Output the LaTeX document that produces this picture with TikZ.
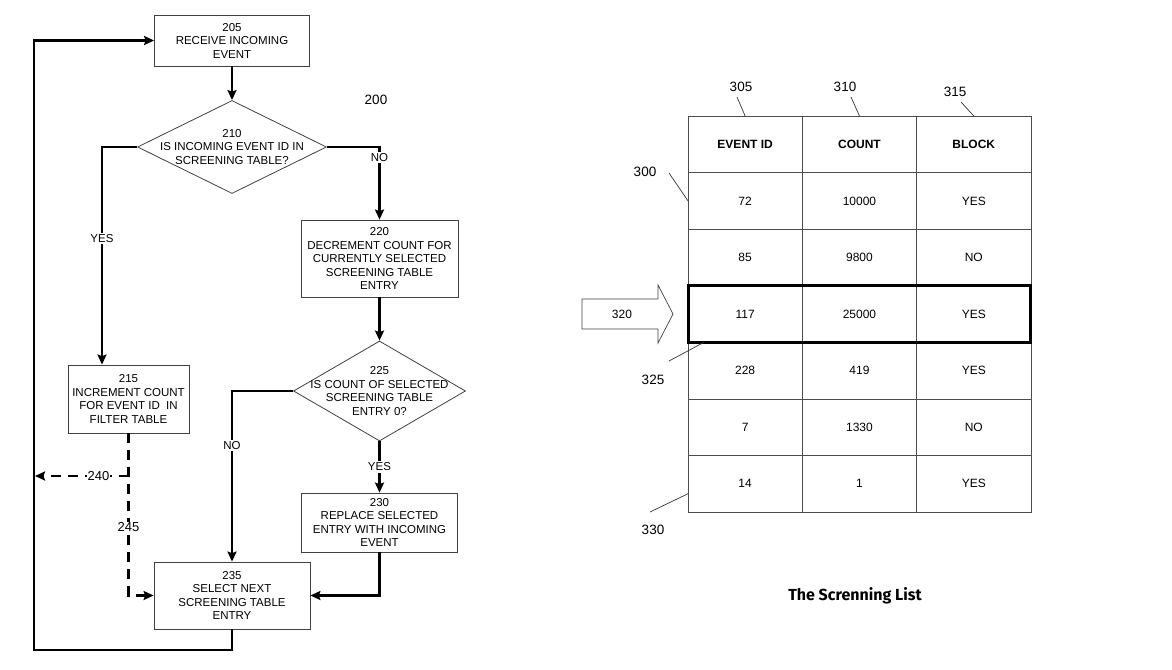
\documentclass[tikz,border=0pt]{standalone}
\usepackage{fontspec}
\setmainfont{Liberation Sans}
\newfontfamily\titlefont{Fira Sans}
\usetikzlibrary{arrows.meta,shapes.geometric}

\begin{document}
\begin{tikzpicture}[x=1pt,y=-1pt,
    stepbox/.style={draw=black!75, line width=0.8pt, align=center, inner sep=1pt,
      font=\fontsize{11.5}{13.5}\selectfont},
    decision/.style={diamond, draw=black!75, line width=0.8pt, inner sep=0pt},
    dtext/.style={align=center, inner sep=0pt, font=\fontsize{11.5}{13.5}\selectfont},
    flow/.style={line width=2.2pt, -{Stealth[length=10pt,width=9pt,inset=1.5pt]}},
    dflow/.style={flow, dash pattern=on 10pt off 7pt},
    lbl/.style={fill=white, inner sep=1.5pt, font=\fontsize{11.5}{13.5}\selectfont},
    dlbl/.style={fill=white, inner sep=1pt, font=\fontsize{13}{15}\selectfont},
    num/.style={inner sep=0pt, font=\fontsize{13.5}{15}\selectfont},
    cell/.style={draw=black!70, line width=0.7pt, inner sep=0pt, outer sep=0pt,
      minimum width=114.3pt, minimum height=56.57pt, font=\fontsize{12}{14}\selectfont},
    lead/.style={line width=0.7pt, black!80}]

  \useasboundingbox (0,0) rectangle (1172,669);

  % Flowchart 200
  \node[stepbox, minimum width=155pt, minimum height=51pt] (b205) at (232,40.5)
    {205\\RECEIVE INCOMING\\EVENT};
  \node[decision, minimum width=189pt, minimum height=93pt] (d210) at (232,147) {};
  \node[dtext] (t210) at (d210) {210\\IS INCOMING EVENT ID IN\\SCREENING TABLE?};
  \node[stepbox, minimum width=121pt, minimum height=68pt] (b215) at (128.5,399)
    {215\\INCREMENT COUNT\\FOR EVENT ID\ \ IN\\FILTER TABLE};
  \node[stepbox, minimum width=157pt, minimum height=77pt] (b220) at (379.5,258.5)
    {220\\DECREMENT COUNT FOR\\CURRENTLY SELECTED\\SCREENING TABLE\\ENTRY};
  \node[decision, minimum width=172pt, minimum height=100pt] (d225) at (379.5,391) {};
  \node[dtext] (t225) at (d225) {225\\IS COUNT OF SELECTED\\SCREENING TABLE\\ENTRY 0?};
  \node[stepbox, minimum width=156pt, minimum height=59pt] (b230) at (379.5,522.5)
    {230\\REPLACE SELECTED\\ENTRY WITH INCOMING\\EVENT};
  \node[stepbox, minimum width=156pt, minimum height=67pt] (b235) at (232,595.5)
    {235\\SELECT NEXT\\SCREENING TABLE\\ENTRY};
  \node[num] (n200) at (376,100) {200};

  % Bend points
  \coordinate (c210y) at (102,147);
  \coordinate (c210n) at (379.5,147);
  \coordinate (c225n) at (232,391);
  \coordinate (loop) at (34,650);
  \coordinate (d240) at (128.5,476);
  \coordinate (d240end) at (35,476);

  % Connectors
  \draw[flow] (b205) -- (d210);
  \draw[flow] (d210.west) -- (c210y) -- node[lbl, pos=0.42] {YES} (c210y |- b215.north);
  \draw[flow] (d210.east) -- (c210n) -- node[lbl, pos=0.15] {NO} (b220.north);
  \draw[flow] (b220) -- (d225);
  \draw[flow] (d225) -- node[lbl] {YES} (b230);
  \draw[flow] (d225.west) -- (c225n) -- node[lbl, pos=0.32] {NO} (b235.north);
  \draw[flow] (b230.south) |- (b235.east);
  \draw[flow] (b235.south) |- (loop) |- (b205.west);
  \draw[dflow] (b215.south) |- node[dlbl, pos=0.29] {245} (b235.west);
  \draw[dflow] (d240) -- node[dlbl, pos=0.32, inner sep=0.5pt] {240} (d240end);

  % Screening table 300
  \node[cell, font=\fontsize{12}{14}\selectfont\bfseries] (t-0-1) at (745.15,144.3) {EVENT ID};
  \node[cell, font=\fontsize{12}{14}\selectfont\bfseries] (t-0-2) at (859.45,144.3) {COUNT};
  \node[cell, font=\fontsize{12}{14}\selectfont\bfseries] (t-0-3) at (973.75,144.3) {BLOCK};
  \foreach \r/\ida/\cnt/\blk in {1/72/10000/YES, 2/85/9800/NO, 3/117/25000/YES,
      4/228/419/YES, 5/7/1330/NO, 6/14/1/YES} {
    \node[cell] (t-\r-1) at (745.15,{144.3+56.57*\r}) {\ida};
    \node[cell] (t-\r-2) at (859.45,{144.3+56.57*\r}) {\cnt};
    \node[cell] (t-\r-3) at (973.75,{144.3+56.57*\r}) {\blk};
  }
  % selected entry
  \draw[line width=3pt] (t-3-1.north west) rectangle (t-3-3.south east);

  % Reference numerals
  \node[num] (n305) at (741,87) {305};
  \node[num] (n310) at (845,87) {310};
  \node[num] (n315) at (955,92) {315};
  \node[num] (n300) at (645,172) {300};
  \node[num] (n325) at (653,380) {325};
  \node[num] (n330) at (653,530) {330};
  \coordinate (p305) at (737,97);
  \coordinate (p310) at (851,97);
  \coordinate (p315) at (961,102);
  \coordinate (p300) at (669,173);
  \coordinate (p325) at (669,361);
  \coordinate (p330) at (650,512);
  \draw[lead] (p305) -- (t-0-1.north);
  \draw[lead] (p310) -- (t-0-2.north);
  \draw[lead] (p315) -- (t-0-3.north);
  \draw[lead] (p300) -- (t-1-1.west);
  \draw[lead] (p325) -- ([xshift=16pt]t-3-1.south west);
  \draw[lead] (p330) -- ([yshift=-10pt]t-6-1.west);

  % Pointer 320
  \draw[line width=0.7pt, black!75] (582,299) -- (658,299) -- (658,285) -- (673,314)
    -- (658,343) -- (658,329) -- (582,329) -- cycle;
  \node[inner sep=0pt, font=\fontsize{12}{14}\selectfont] (n320) at (622,314) {320};

  % Caption
  \node[font=\titlefont\bfseries\fontsize{16}{18}\selectfont] (title) at (855,596) {The Screnning List};
\end{tikzpicture}
\end{document}
